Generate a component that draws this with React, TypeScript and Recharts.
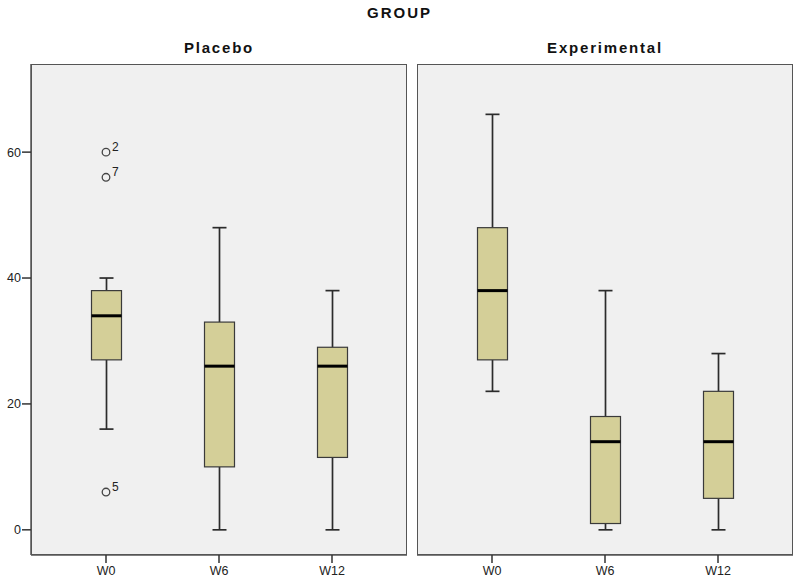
import React from 'react';
import { ComposedChart, Bar, Scatter, XAxis, YAxis, CartesianGrid } from 'recharts';

const weeks = ['W0', 'W6', 'W12'];
const yTicks = [0, 20, 40, 60];
const yDomain = [-4, 74];

// box summaries per week
const placeboMin = [16, 0, 0];
const placeboQ1 = [27, 10, 11.5];
const placeboMedian = [34, 26, 26];
const placeboQ3 = [38, 33, 29];
const placeboMax = [40, 48, 38];

const experimentalMin = [22, 0, 0];
const experimentalQ1 = [27, 1, 5];
const experimentalMedian = [38, 14, 14];
const experimentalQ3 = [48, 18, 22];
const experimentalMax = [66, 38, 28];

// outliers with their case numbers
const placeboOutliers = [
  { week: 'W0', value: 60, id: '2' },
  { week: 'W0', value: 56, id: '7' },
  { week: 'W0', value: 6, id: '5' },
];
const experimentalOutliers: { week: string; value: number; id: string }[] = [];

const FONT = '"Liberation Sans", Arial, sans-serif';
const BOX_FILL = '#d4cf98';
const PANEL_BG = '#f0f0f0';

function buildRows(
  min: number[], q1: number[], median: number[], q3: number[], max: number[],
  outliers: { week: string; value: number; id: string }[]
) {
  return weeks.map((w, i) => {
    const row: any = { name: w, range: [min[i], max[i]], q1: q1[i], median: median[i], q3: q3[i] };
    outliers.filter((o) => o.week === w).forEach((o, k) => {
      row[`out${k}`] = o.value;
      row[`outId${k}`] = o.id;
    });
    return row;
  });
}

const placeboRows = buildRows(placeboMin, placeboQ1, placeboMedian, placeboQ3, placeboMax, placeboOutliers);
const experimentalRows = buildRows(
  experimentalMin, experimentalQ1, experimentalMedian, experimentalQ3, experimentalMax, experimentalOutliers
);

const maxSlots = (outliers: { week: string }[]) =>
  Math.max(0, ...weeks.map((w) => outliers.filter((o) => o.week === w).length));

const BoxShape = (props: any) => {
  const { x, y, width, height, payload } = props;
  if (!payload || !isFinite(y) || !isFinite(height)) return <g />;
  const [lo, hi] = payload.range;
  const top = Math.min(y, y + height);
  const h = Math.abs(height);
  const toPx = (v: number) => top + ((hi - v) / (hi - lo)) * h;
  const cx = x + width / 2;
  const cap = 7;
  const yQ1 = toPx(payload.q1);
  const yQ3 = toPx(payload.q3);
  const yMed = toPx(payload.median);
  const yMin = toPx(lo);
  const yMax = toPx(hi);
  const stroke = '#2b2b2b';
  return (
    <g>
      <line x1={cx} x2={cx} y1={yMax} y2={yQ3} stroke={stroke} strokeWidth={1.7} />
      <line x1={cx} x2={cx} y1={yQ1} y2={yMin} stroke={stroke} strokeWidth={1.7} />
      <line x1={cx - cap} x2={cx + cap} y1={yMax} y2={yMax} stroke={stroke} strokeWidth={1.7} />
      <line x1={cx - cap} x2={cx + cap} y1={yMin} y2={yMin} stroke={stroke} strokeWidth={1.7} />
      <rect x={x} y={yQ3} width={width} height={yQ1 - yQ3} fill={BOX_FILL} stroke="#3a3a3a" strokeWidth={1.2} />
      <line x1={x} x2={x + width} y1={yMed} y2={yMed} stroke="#000" strokeWidth={3} />
    </g>
  );
};

const outlierShape = (slot: number) => (props: any) => {
  const { cx, cy, payload } = props;
  if (!payload || payload[`out${slot}`] == null || !isFinite(cx) || !isFinite(cy)) return <g />;
  return (
    <g>
      <circle cx={cx} cy={cy} r={3.8} fill="none" stroke="#444" strokeWidth={1.3} />
      <text x={cx + 6} y={cy - 1} fontSize={12} fontFamily={FONT} fill="#222">
        {payload[`outId${slot}`]}
      </text>
    </g>
  );
};

const tickStyle = { fontSize: 12.5, fill: '#222', fontFamily: FONT };

function Panel({ rows, outliers, showY, left, width, marginLeft }: any) {
  const slots = maxSlots(outliers);
  return (
    <div style={{ position: 'absolute', left, top: 0 }}>
      <ComposedChart
        width={width}
        height={578}
        data={rows}
        margin={{ top: 64, right: 3, bottom: 0, left: marginLeft }}
      >
        <CartesianGrid horizontal={false} vertical={false} fill={PANEL_BG} />
        <XAxis
          dataKey="name"
          type="category"
          padding={{ left: 18.5, right: 18.5 }}
          axisLine={{ stroke: '#555', strokeWidth: 1.5 }}
          tickLine={{ stroke: '#333', strokeWidth: 1.5 }}
          tickSize={8}
          tickMargin={3}
          height={23}
          tick={tickStyle}
          interval={0}
        />
        {showY ? (
          <YAxis
            domain={yDomain}
            ticks={yTicks}
            width={31}
            axisLine={{ stroke: '#555', strokeWidth: 1.5 }}
            tickLine={{ stroke: '#333', strokeWidth: 1.5 }}
            tickSize={9}
            tickMargin={1}
            tick={tickStyle}
            allowDataOverflow
          />
        ) : (
          <YAxis domain={yDomain} hide allowDataOverflow />
        )}
        <Bar dataKey="range" barSize={30} shape={BoxShape} isAnimationActive={false} />
        {Array.from({ length: slots }).map((_, k) => (
          <Scatter key={k} dataKey={`out${k}`} shape={outlierShape(k)} isAnimationActive={false} />
        ))}
      </ComposedChart>
    </div>
  );
}

const frame = (left: number) => (
  <div
    style={{
      position: 'absolute',
      left,
      top: 64,
      width: 376,
      height: 491,
      border: '1.5px solid #555',
      boxSizing: 'border-box',
      pointerEvents: 'none',
    }}
  />
);

const titleStyle: React.CSSProperties = {
  position: 'absolute',
  textAlign: 'center',
  fontFamily: FONT,
  fontWeight: 'bold',
  fontSize: 15,
  color: '#111',
  lineHeight: '18px',
};

export default function App() {
  return (
    <div style={{ position: 'absolute', left: 0, top: 0, width: 799, height: 578, background: '#fff', overflow: 'hidden' }}>
      <div style={{ ...titleStyle, left: 0, top: 4, width: 799, letterSpacing: 2 }}>GROUP</div>
      <div style={{ ...titleStyle, left: 31, top: 39, width: 376, letterSpacing: 1.8 }}>Placebo</div>
      <div style={{ ...titleStyle, left: 417, top: 39, width: 376, letterSpacing: 1.8 }}>Experimental</div>
      <Panel rows={placeboRows} outliers={placeboOutliers} showY left={0} width={410} marginLeft={0} />
      <Panel rows={experimentalRows} outliers={experimentalOutliers} showY={false} left={410} width={386} marginLeft={7} />
      {frame(31)}
      {frame(417)}
    </div>
  );
}
